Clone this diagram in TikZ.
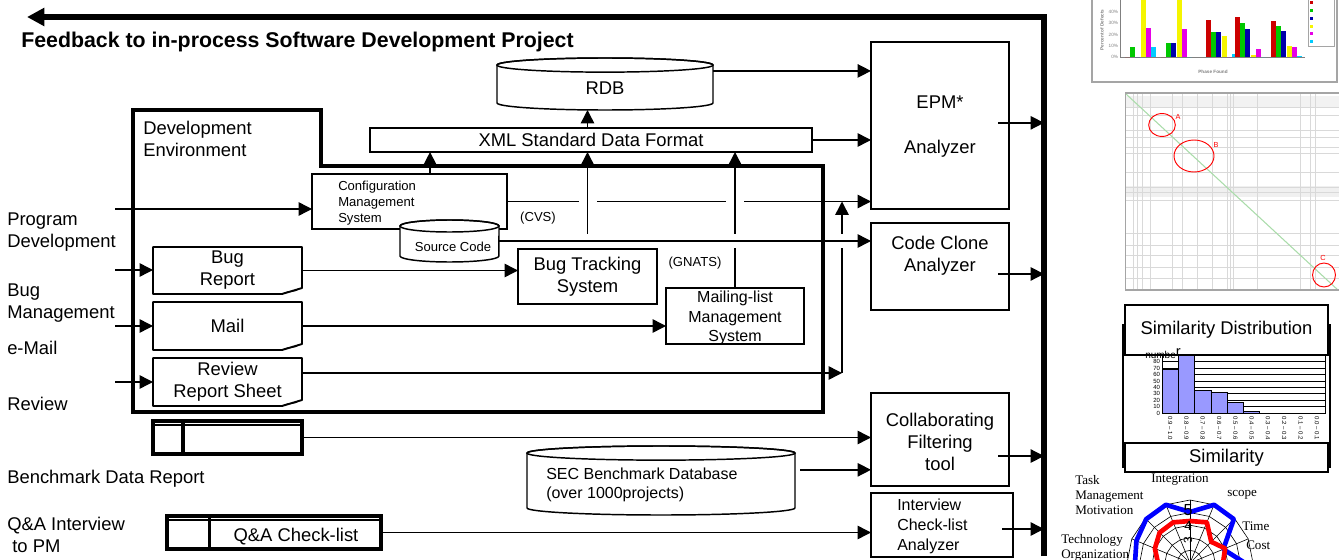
\documentclass[tikz,border=0pt]{standalone}
\usepackage{fontspec}
\setmainfont{Liberation Sans}
\newfontfamily\radarfont{Liberation Serif}
\usetikzlibrary{arrows.meta,calc,fit}
\definecolor{barred}{RGB}{204,0,0}
\definecolor{bargreen}{RGB}{0,200,0}
\definecolor{barblue}{RGB}{0,0,170}
\definecolor{baryellow}{RGB}{245,245,0}
\definecolor{barmagenta}{RGB}{230,0,230}
\definecolor{barcyan}{RGB}{0,204,255}
\definecolor{histfill}{RGB}{153,153,255}
\definecolor{framegray}{RGB}{165,165,165}
\definecolor{diaggreen}{RGB}{170,220,170}
\definecolor{radarblue}{RGB}{0,0,255}
\definecolor{radarred}{RGB}{255,0,0}

\newcommand\bigfont{\fontsize{13.8}{16.5}\selectfont}
\newcommand\midfont{\fontsize{12}{14.5}\selectfont}
\newcommand\smallfont{\fontsize{9.8}{12}\selectfont}
\newcommand\chartfont{\fontsize{4.5}{5}\selectfont}

\newcommand\docframe[1]{%
  \draw[line width=1.4pt, line join=round] (#1.north west) -- (#1.north east) -- ([yshift=4.5pt]#1.south east)
    -- ([xshift=-15pt]#1.south east) -- (#1.south west) -- cycle;
  \draw[line width=0.8pt] ([xshift=-15pt]#1.south east) .. controls ([xshift=-9pt,yshift=3pt]#1.south east)
    and ([xshift=-6pt,yshift=1pt]#1.south east) .. ([xshift=-2pt,yshift=4pt]#1.south east);}
\newcommand\tableframe[2]{%
  \draw[tbl] (#1.north west) rectangle (#1.south east);
  \draw[line width=1.4pt] ([yshift=-3.2pt]#1.north west) -- ([yshift=-3.2pt]#1.north east);
  \draw[tbl] ([xshift=#2]#1.north west) -- ([xshift=#2]#1.south west);}
\newcommand\dbframe[3]{%
  \filldraw[line width=1.1pt, fill=white] ([yshift=-#3]#1.north west) -- ([yshift=#3]#1.south west)
    arc[start angle=180,end angle=360,x radius=#2,y radius=#3] -- ([yshift=-#3]#1.north east)
    arc[start angle=0,end angle=180,x radius=#2,y radius=#3] -- cycle;
  \draw[line width=1.1pt] ([yshift=-#3]#1.north) ellipse[x radius=#2,y radius=#3];}
\newcommand\gapmark[3]{\fill[white] ($(#1)+(-#2,-#3)$) rectangle ($(#1)+(#2,#3)$);}

\begin{document}
\begin{tikzpicture}[
  x=0.75pt, y=-0.75pt,
  box/.style={draw, line width=1.4pt, fill=white, inner sep=0pt, outer sep=0pt},
  area/.style={inner sep=0pt, outer sep=0pt},
  txt/.style={inner sep=0pt, align=center, font=\bigfont},
  lbl/.style={inner sep=0pt, anchor=west, align=left, font=\bigfont},
  arr/.style={line width=1.1pt, -{Triangle[length=10pt,width=10pt]}},
  tbl/.style={line width=2.4pt},
  tick/.style={inner sep=0.5pt, font=\chartfont},
  radar/.style={inner sep=0pt, align=left, font=\radarfont\fontsize{9.8}{11.3}\selectfont}
]
\useasboundingbox (0,0) rectangle (1339,560);

\coordinate (fbL) at (27,17);
\coordinate (fbR) at (1044,17);
\coordinate (fbB) at (1044,556);
\draw[line width=3.8pt, -{Triangle[length=13pt,width=13pt]}] (fbB) -- (fbR) -- (fbL);
\node[anchor=base west, inner sep=0pt, font=\bfseries\fontsize{16}{19}\selectfont] (fbtitle) at (21,48)
  {Feedback to in-process Software Development Project};

\draw[line width=3pt] (133,110) -- (321,110) -- (321,166) -- (823,166) -- (823,412) -- (133,412) -- cycle;
\node[lbl] (devenv) at (143,139) {Development\\Environment};

\node[lbl] (lprog) at (7,232) {Program\\Development};
\node[lbl] (lbug) at (7,303) {Bug\\Management};
\node[lbl] (lmail) at (7,348) {e-Mail};
\node[lbl] (lrev) at (7,404) {Review};
\node[lbl] (lbench) at (7,479) {Benchmark Data Report};
\node[lbl] (lqa) at (7,535) {Q\&A Interview\\\ to PM};

\node[box, fit={(370,128)(812,152)}] (xml) {};
\node[txt] (xmll) at (xml) {XML Standard Data Format};
\node[area, fit={(497,58)(713,110)}] (rdb) {};
\dbframe{rdb}{81pt}{5.3pt}
\node[txt] (rdbl) at (605,88) {RDB};
\node[box, line width=1.1pt, fit={(312,174)(507,229)}] (cms) {};
\node[txt, anchor=west, align=left, font=\smallfont] (cmsl) at (338,203) {Configuration\\Management\\System};
\node[area, fit={(400,220)(499,262)}] (src) {};
\dbframe{src}{37.1pt}{4.5pt}
\node[txt, font=\smallfont] (srcl) at (453,247) {Source Code};
\node[box, fit={(518,249)(657,304)}] (btrack) {};
\node[txt] (btrackl) at (btrack) {Bug Tracking\\System};
\node[box, fit={(666,288)(804,344)}] (mlist) {};
\node[txt, font=\midfont] (mlistl) at ([yshift=-1.5pt]mlist.center) {Mailing-list\\Management\\System};
\node[txt, font=\smallfont] (cvs) at (538,218) {(CVS)};
\node[txt, font=\smallfont] (gnats) at (695,263) {(GNATS)};

\node[area, fit={(153,247)(302,294)}] (bug) {};
\docframe{bug}
\node[txt] (bugl) at (bug) {Bug\\Report};
\node[area, fit={(153,302)(302,350)}] (mail) {};
\docframe{mail}
\node[txt] (maill) at (mail) {Mail};
\node[area, fit={(153,358)(302,406)}] (rev) {};
\docframe{rev}
\node[txt] (revl) at (rev) {Review\\Report Sheet};
\node[area, fit={(153,421)(302,454)}] (bench) {};
\tableframe{bench}{22.5pt}
\node[area, fit={(167,516)(381,549)}] (qa) {};
\tableframe{qa}{32pt}
\node[txt] (qal) at (296,537) {Q\&A Check-list};
\node[area, fit={(527,446)(795,515)}] (sec) {};
\dbframe{sec}{100.5pt}{5.3pt}
\node[txt, anchor=west, align=left, font=\midfont] (secl) at (546,485) {SEC Benchmark Database\\(over 1000projects)};

\node[box, fit={(871,42)(1009,209)}] (epm) {};
\node[txt] (epml) at ([yshift=-0.8pt]epm.center) {EPM*\\[17pt]Analyzer};
\node[box, fit={(871,223)(1009,310)}] (ccl) {};
\node[txt] (ccll) at (940,256) {Code Clone\\Analyzer};
\node[box, fit={(871,393)(1009,486)}] (cft) {};
\node[txt] (cftl) at ([yshift=-2pt]cft.center) {Collaborating\\Filtering\\tool};
\node[box, fit={(871,493)(1013,557)}] (ica) {};
\node[txt, anchor=west, align=left, font=\fontsize{12}{15}\selectfont] (ical) at (897,526) {Interview\\Check-list\\Analyzer};

\coordinate (rdbo) at ([yshift=9.8pt]rdb.east);
\draw[arr] (rdbo) -- (rdbo -| epm.west);
\draw[arr] (xml.east) -- (xml.east -| epm.west);
\draw[arr] (xml.north -| btrack.north) -- (rdb.south -| btrack.north);
\draw[arr] (cms.east) -- (cms.east -| epm.west);
\coordinate (g1) at (btrack.north |- cms.east);
\coordinate (g2) at (mlist.north |- cms.east);
\gapmark{g1}{9}{3}
\gapmark{g2}{9}{3}
\coordinate (cmsup) at ([xshift=15.4pt]cms.north);
\draw[arr] (cmsup) -- (cmsup |- xml.south);
\draw[arr] (btrack.north) -- (btrack.north |- xml.south);
\draw[arr] (mlist.north) -- (mlist.north |- xml.south);
\coordinate (rvc) at (842,373);
\draw[arr] (rev.east |- rvc) -- (rvc);
\draw[arr] (rvc) -- (rvc |- cms.east);
\foreach \n/\x in {g3/btrack.north, g4/mlist.north, g5/rvc} {
  \coordinate (\n) at (\x |- src.east);
  \gapmark{\n}{3}{7}
}
\draw[arr] (src.east) -- (src.east -| ccl.west);
\draw[arr] (bug.east) -- (bug.east -| btrack.west);
\draw[arr] (mail.east) -- (mail.east -| mlist.west);
\coordinate (in1) at (115,209);
\coordinate (in2) at (115,270);
\coordinate (in3) at (115,326);
\coordinate (in4) at (115,382);
\draw[arr] (in1) -- (in1 -| cms.west);
\draw[arr] (in2) -- (in2 -| bug.west);
\draw[arr] (in3) -- (in3 -| mail.west);
\draw[arr] (in4) -- (in4 -| rev.west);
\draw[arr] (bench.east) -- (bench.east -| cft.west);
\coordinate (seco) at ([xshift=4pt,yshift=8pt]sec.east);
\draw[arr] (seco) -- (seco -| cft.west);
\draw[arr] (qa.east) -- (qa.east -| ica.west);
\foreach \n/\dy in {epm/2pt, ccl/-5.6pt, cft/-12.4pt, ica/-3pt} {
  \coordinate (o\n) at ([xshift=-8pt,yshift=\dy]\n.east);
  \draw[arr] (o\n) -- (o\n -| fbB);
}

% defect chart
\begin{scope}
\clip (1090,0) rectangle (1339,84);
\draw[framegray, line width=1pt, fill=white] (1092,-5) rectangle (1337,82);
\draw[gray, line width=0.4pt] (1120,0) -- (1120,57) -- (1305,57);
\foreach \v/\yy in {0/57,10/45.7,20/34.4,30/23.1,40/11.8}
  \node[tick, anchor=east, gray, font=\fontsize{3.5}{4}\selectfont] (dy\v) at (1119,\yy) {\v\%};
\foreach \gx/\va/\vb/\vc/\vd/\ve/\vf in {1125/0/9/0/55/26/9, 1161/0/12/12/55/25/0, 1206/33/22/22/19/0/3, 1235/35/30/25/2/7/0, 1271/32/27/23/10/9/1}
  \foreach \c/\v [count=\k from 0] in {barred/\va, bargreen/\vb, barblue/\vc, baryellow/\vd, barmagenta/\ve, barcyan/\vf}
    \fill[\c] ({\gx+5.2*\k},57) rectangle ++(5,{-1.13*\v});
\node[tick, gray, font=\fontsize{3.5}{4}\selectfont\bfseries] (dphase) at (1213,72) {Phase Found};
\node[tick, gray, rotate=90, font=\fontsize{3.5}{4}\selectfont\bfseries] (dpct) at (1102,30) {Percent of Defects};
\draw[framegray, fill=white, line width=0.6pt] (1308,-2) rectangle (1334,46);
\foreach \c [count=\k from 0] in {barred, bargreen, barblue, baryellow, barmagenta, barcyan}
  \fill[\c] (1310,{1.5+7.7*\k}) rectangle ++(3,3);
\end{scope}

% clone scatter plot
\begin{scope}
\clip (1125,93) rectangle (1339,290);
\fill[gray!10] (1125,96) rectangle (1339,107);
\fill[gray!12] (1125,186) rectangle (1339,197);
\foreach \xx in {1133,1137,1142,1150,1172,1182,1197,1212,1227,1230,1233,1257,1300,1310,1315}
  \draw[gray!30, line width=0.5pt] (\xx,93) -- (\xx,290);
\foreach \yy in {107,115,130,137,147,153,172,187,192,200,233,245,255,267,278}
  \draw[gray!30, line width=0.5pt] (1125,\yy) -- (1339,\yy);
\draw[diaggreen, line width=0.8pt] (1126,94) -- (1339,291);
\draw[framegray, line width=0.8pt] (1125,93) rectangle (1345,290);
\draw[red, line width=0.7pt] (1162,125) ellipse[x radius=10pt, y radius=8.6pt];
\draw[red, line width=0.7pt] (1194,156) ellipse[x radius=15pt, y radius=12pt];
\draw[red, line width=0.7pt] (1324,275) ellipse[x radius=8.6pt, y radius=9pt];
\end{scope}
\node[tick, red, font=\fontsize{5.5}{6}\selectfont] (markA) at (1178,117) {A};
\node[tick, red, font=\fontsize{5.5}{6}\selectfont] (markB) at (1216,145) {B};
\node[tick, red, font=\fontsize{5.5}{6}\selectfont] (markC) at (1323,258) {C};

% similarity histogram
\draw[line width=1.4pt] (1123,325) rectangle (1330,467);
\foreach \v in {10,20,...,80}
  \draw[line width=0.5pt] (1162,{413-0.64*\v}) -- (1325,{413-0.64*\v});
\foreach \v [count=\i from 0] in {68,95,35,32,17,3,0,0,0,0}
  \filldraw[fill=histfill, line width=0.5pt] ({1162+16.3*\i},413) rectangle ({1162+16.3*(\i+1)},{413-0.64*\v});
\draw[line width=0.6pt] (1162,352) -- (1162,413) -- (1325,413) -- (1325,352);
\foreach \v in {0,10,...,80}
  \node[tick, anchor=east] (hy\v) at (1161,{413-0.64*\v}) {\v};
\foreach \lab [count=\i from 0] in {0.9 – 1.0, 0.8 – 0.9, 0.7 – 0.8, 0.6 – 0.7, 0.5 – 0.6, 0.4 – 0.5, 0.3 – 0.4, 0.2 – 0.3, 0.1 – 0.2, 0.0 – 0.1}
  \node[tick, rotate=-90, anchor=west] (hx\i) at ({1170.2+16.3*\i},416) {\lab};
\node[box, line width=1.1pt, fit={(1125,305)(1328,355)}] (simdist) {};
\node[txt] (simdistl) at (simdist) {Similarity Distribution};
\node[box, line width=1.1pt, fit={(1125,443)(1328,472)}] (simlbl) {};
\node[txt] (simlbll) at (simlbl) {Similarity};
\node[inner sep=0pt, anchor=base, font=\fontsize{7.5}{8}\selectfont] (numlbl) at (1163,358.2) {numbe\raisebox{0.3ex}{\fontsize{11}{11}\selectfont r}};

% project radar
\begin{scope}
\clip (1040,470) rectangle (1339,560);
\begin{scope}[shift={(1190,563)}, yscale=-1]
\foreach \k in {1,...,5}
  \draw[line width=0.45pt] (0:{12.6*\k}) \foreach \a in {22.5,45,...,337.5} {-- (\a:{12.6*\k})} -- cycle;
\foreach \a in {0,22.5,...,337.5}
  \draw[line width=0.45pt] (0,0) -- (\a:63);
\draw[radarblue, line width=3.5pt, line join=round] (0:55) -- (22.5:36) -- (45:62) -- (67.5:63) -- (90:51)
  -- (112.5:63) -- (135:62) -- (157.5:58) -- (180:55) -- (202.5:55) -- (270:40) -- (337.5:55) -- cycle;
\draw[radarred, line width=3.5pt, line join=round] (0:33) -- (22.5:38) -- (45:30) -- (67.5:44) -- (90:42)
  -- (112.5:44) -- (135:43) -- (157.5:38) -- (180:32) -- (270:20) -- cycle;
\node[inner sep=0pt, font=\fontsize{12}{12}\selectfont] (lv5) at (-2,53) {5};
\node[inner sep=0pt, font=\fontsize{10}{10}\selectfont] (lv4) at (-2,37) {4};
\node[inner sep=0pt, rotate=90, font=\fontsize{9}{9}\selectfont] (lv3) at (-2,23) {3};
\end{scope}
\end{scope}
\node[radar, anchor=west] (rtask) at (1075,495) {Task\\Management\\Motivation};
\node[radar] (rint) at (1180,480) {Integration};
\node[radar, anchor=west] (rscope) at (1227,495) {scope};
\node[radar, anchor=west] (rtime) at (1242,526) {Time};
\node[radar, anchor=west] (rcost) at (1246,545) {Cost};
\node[radar, anchor=west] (rtech) at (1061,548) {Technology\\Organization};
\end{tikzpicture}
\end{document}
